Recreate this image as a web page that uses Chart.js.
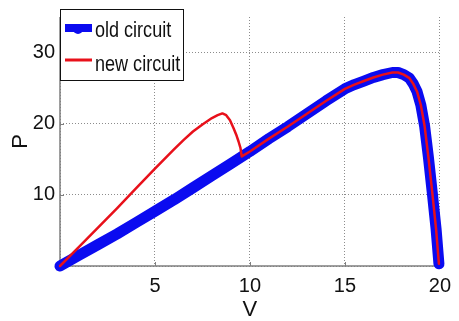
<!DOCTYPE html>
<html lang="en">
<head>
    <meta charset="UTF-8">
    <title>P-V curve</title>
    <script src="https://cdn.jsdelivr.net/npm/chart.js"></script>
    <style>
        html, body { margin: 0; padding: 0; background: #fff; }
        #wrap { width: 459px; height: 321px; }
    </style>
</head>
<body>
    <div id="wrap"><canvas id="pvChart" width="459" height="321"></canvas></div>

    <script>
        // old circuit: voltage / power samples
        const oldV = [0, 1, 2, 3, 4, 5, 6, 7, 8, 9, 10, 11, 12, 13, 14, 15, 15.5, 16, 16.5, 17, 17.5, 17.8, 18.1, 18.4, 18.6, 18.8, 19.0, 19.2, 19.4, 19.6, 19.8, 19.95];
        const oldP = [0, 1.5, 3.0, 4.5, 6.1, 7.7, 9.3, 11.0, 12.7, 14.4, 16.1, 17.9, 19.6, 21.4, 23.2, 24.9, 25.5, 26.0, 26.5, 26.9, 27.2, 27.2, 26.9, 26.4, 25.6, 24.5, 22.6, 19.6, 15.2, 10.3, 5.2, 0.3];

        // new circuit: the part before it joins the old curve
        const newV = [0, 1, 2, 3, 4, 5, 6, 6.5, 7, 7.5, 8, 8.3, 8.55, 8.75, 8.95, 9.15, 9.3, 9.4, 9.5, 9.57];
        const newP = [0, 2.7, 5.4, 8.1, 10.9, 13.7, 16.4, 17.7, 18.9, 19.9, 20.8, 21.2, 21.45, 21.2, 20.5, 19.3, 18.3, 17.5, 16.6, 15.4];
        const joinV = 9.57;

        const seriesNames = ['old circuit', 'new circuit'];
        const xTicks = [5, 10, 15, 20];
        const yTicks = [10, 20, 30];

        const FONT = "'Liberation Sans', Arial, sans-serif";
        const BLUE = '#0b0bf0';
        const RED = '#e8101a';
        const AXIS = '#7f7f7f';

        const oldPts = oldV.map((v, i) => ({ x: v, y: oldP[i] }));
        const newPts = newV.map((v, i) => ({ x: v, y: newP[i] }))
            .concat(oldPts.filter(p => p.x > joinV));

        // solid axes + inward tick marks + boxed legend, matlab style
        const matlabBits = {
            id: 'matlabBits',
            beforeDatasetsDraw(chart) {
                const ctx = chart.ctx;
                const xs = chart.scales.x, ys = chart.scales.y;
                const ca = chart.chartArea;
                ctx.save();
                ctx.strokeStyle = AXIS;
                ctx.lineWidth = 1.5;
                ctx.beginPath();
                ctx.moveTo(ca.left, ca.top);
                ctx.lineTo(ca.left, ca.bottom);
                ctx.lineTo(ca.right, ca.bottom);
                ctx.stroke();

                ctx.lineWidth = 1;
                xTicks.forEach(t => {
                    const px = Math.round(xs.getPixelForValue(t)) + 0.5;
                    ctx.beginPath();
                    ctx.moveTo(px, ca.bottom);
                    ctx.lineTo(px, ca.bottom - 4);
                    ctx.stroke();
                });
                yTicks.forEach(t => {
                    const py = Math.round(ys.getPixelForValue(t)) + 0.5;
                    ctx.beginPath();
                    ctx.moveTo(ca.left, py);
                    ctx.lineTo(ca.left + 4, py);
                    ctx.stroke();
                });
                ctx.restore();
            },
            afterDatasetsDraw(chart) {
                const ctx = chart.ctx;
                const ca = chart.chartArea;
                ctx.save();
                const bx = ca.left, by = 9, bw = 123, bh = 71;
                ctx.fillStyle = '#fff';
                ctx.fillRect(bx, by, bw, bh);
                ctx.strokeStyle = '#111';
                ctx.lineWidth = 1;
                ctx.strokeRect(bx + 0.5, by + 0.5, bw, bh);

                ctx.lineCap = 'butt';
                ctx.strokeStyle = BLUE;
                ctx.lineWidth = 8;
                ctx.beginPath();
                ctx.moveTo(bx + 5, 28);
                ctx.lineTo(bx + 32, 28);
                ctx.stroke();
                ctx.fillStyle = BLUE;
                ctx.beginPath();
                ctx.arc(bx + 18, 29, 5, 0, Math.PI * 2);
                ctx.fill();

                ctx.strokeStyle = RED;
                ctx.lineWidth = 3;
                ctx.beginPath();
                ctx.moveTo(bx + 5, 60);
                ctx.lineTo(bx + 32, 60);
                ctx.stroke();

                // matlab's font is narrow, squeeze it a bit
                ctx.fillStyle = '#111';
                ctx.font = '22px ' + FONT;
                ctx.textAlign = 'left';
                ctx.textBaseline = 'alphabetic';
                ctx.translate(bx + 35, 0);
                ctx.scale(0.82, 1);
                ctx.fillText(seriesNames[0], 0, 37);
                ctx.fillText(seriesNames[1], 0, 71);
                ctx.restore();
            }
        };

        const gridStyle = {
            color: '#8c8c8c',
            lineWidth: 1,
            drawTicks: false
        };
        const borderStyle = { display: false, dash: [1, 2] };

        new Chart(document.getElementById('pvChart'), {
            type: 'scatter',
            data: {
                datasets: [{
                    label: seriesNames[0],
                    data: oldPts,
                    showLine: true,
                    borderColor: BLUE,
                    backgroundColor: BLUE,
                    borderWidth: 11,
                    borderCapStyle: 'round',
                    borderJoinStyle: 'round',
                    pointRadius: 0,
                    clip: false,
                    order: 2
                }, {
                    label: seriesNames[1],
                    data: newPts,
                    showLine: true,
                    borderColor: RED,
                    backgroundColor: RED,
                    borderWidth: 2.5,
                    borderCapStyle: 'round',
                    borderJoinStyle: 'round',
                    pointRadius: 0,
                    clip: false,
                    order: 1
                }]
            },
            options: {
                responsive: false,
                animation: false,
                layout: { padding: { top: 8, right: 13, left: 0, bottom: 0 } },
                plugins: {
                    legend: { display: false },
                    tooltip: { enabled: false }
                },
                scales: {
                    x: {
                        type: 'linear',
                        min: 0,
                        max: 20,
                        afterFit(scale) { scale.height = 55; },
                        grid: gridStyle,
                        border: borderStyle,
                        ticks: {
                            stepSize: 5,
                            padding: 8,
                            color: '#111',
                            font: { family: FONT, size: 20 },
                            callback: v => (xTicks.includes(v) ? v : '')
                        },
                        title: {
                            display: true,
                            text: 'V',
                            color: '#111',
                            font: { family: FONT, size: 22, lineHeight: 1 },
                            padding: 0
                        }
                    },
                    y: {
                        type: 'linear',
                        min: 0,
                        max: 35,
                        afterFit(scale) { scale.width = 60; },
                        grid: gridStyle,
                        border: borderStyle,
                        ticks: {
                            stepSize: 10,
                            includeBounds: false,
                            padding: 5,
                            color: '#111',
                            font: { family: FONT, size: 20 },
                            callback: v => (yTicks.includes(v) ? v : '')
                        },
                        title: {
                            display: true,
                            text: 'P',
                            color: '#111',
                            font: { family: FONT, size: 22 },
                            padding: { top: 8, bottom: 0 }
                        }
                    }
                }
            },
            plugins: [matlabBits]
        });
    </script>
</body>
</html>
